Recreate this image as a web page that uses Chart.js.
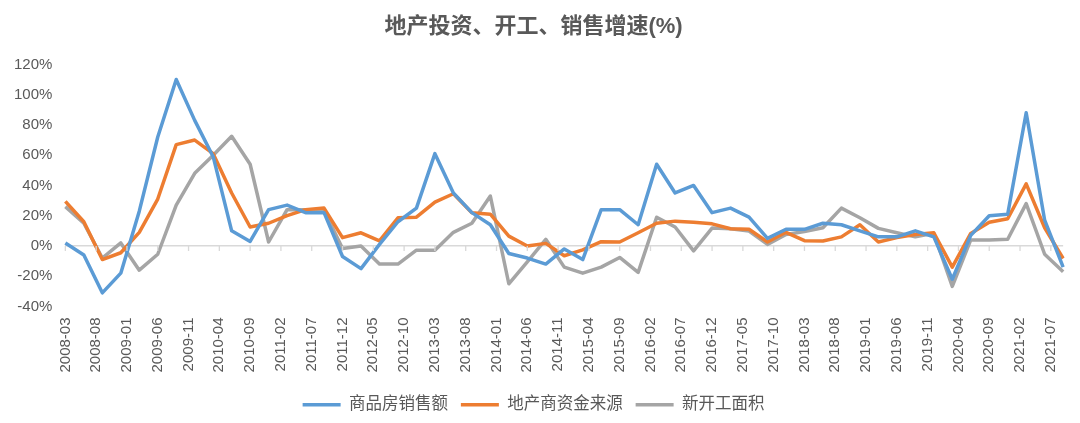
<!DOCTYPE html>
<html>
<head>
<meta charset="utf-8">
<script src="https://cdn.jsdelivr.net/npm/chart.js@4"></script>
<style>
  html, body { margin: 0; padding: 0; background: #fff; }
  #wrap { width: 1080px; height: 423px; }
</style>
</head>
<body>
<div id="wrap"><canvas id="chart"></canvas></div>
<script>
// quarterly values, 2008-03 .. 2021-09 (%)
var sales = [2, -6, -31, -18, 23, 72, 110, 83, 59, 10, 3, 24, 27, 22, 22, -7, -15, 1, 16, 25,
  61, 35, 22, 14, -5, -8, -12, -2, -9, 24, 24, 14, 54, 35, 40, 22, 25, 19, 5, 11,
  11, 15, 14, 10, 6, 6, 10, 6, -22, 7, 20, 21, 88, 17, -14];
var funds = [29.5, 16, -9, -4.5, 9, 31, 67, 70, 61, 35, 12.5, 15, 20, 24, 25, 5.5, 8.7, 3.3, 18.6, 19,
  29, 34.5, 22, 21, 6.5, 0, 1.7, -6.5, -2.6, 2.8, 2.6, 8.7, 15, 16.4, 15.7, 14.6, 11.4, 11, 2.6, 9,
  3.5, 3.3, 6, 14, 2.6, 5.5, 7.6, 8.7, -14, 8.3, 15.7, 18, 41, 12, -8.3];
var starts = [26, 15, -8, 2, -16, -5.5, 27, 48, 60, 72.5, 54, 2.6, 24, 24, 23.6, -1.7, 0, -12, -12, -2.8,
  -2.8, 9, 15, 33, -25, -10.5, 4.4, -14, -18, -14, -7.6, -17.5, 19, 12.5, -3.3, 11.8, 11.4, 9.8, 1, 7.6,
  9.5, 12, 25, 18.6, 11.6, 8.7, 6, 8.3, -26.7, 4, 4, 4.4, 28, -5.5, -17];

var seriesNames = ['商品房销售额', '地产商资金来源', '新开工面积'];
var yTicks = [-40, -20, 0, 20, 40, 60, 80, 100, 120];

// monthly category axis, labelled every 5 months
var months = [];
for (var y = 2008, m = 3; months.length < 163; m++) {
    if (m > 12) { m = 1; y++; }
    months.push(y + '-' + (m < 10 ? '0' + m : m));
}
var labelEvery = 5;

function toMonthly(q) {
    var out = months.map(function () { return null; });
    q.forEach(function (v, i) { out[i * 3] = v; });
    return out;
}

var axisTicks = {
    id: 'axisTicks',
    afterDraw: function (chart) {
        var xs = chart.scales.x, ys = chart.scales.y, ctx = chart.ctx;
        var y0 = ys.getPixelForValue(0);
        ctx.save();
        ctx.strokeStyle = '#d9d9d9';
        ctx.lineWidth = 1.3;
        ctx.beginPath();
        for (var i = 0; i < months.length; i += labelEvery) {
            var x = xs.getPixelForValue(i);
            ctx.moveTo(x, y0);
            ctx.lineTo(x, y0 + 5);
        }
        ctx.stroke();
        ctx.restore();
    }
};

var font = "'Liberation Sans', 'Noto Sans CJK SC', sans-serif";
var colors = ['#5b9bd5', '#ed7d31', '#a5a5a5'];

new Chart(document.getElementById('chart'), {
    type: 'line',
    data: {
        labels: months,
        datasets: [sales, funds, starts].map(function (d, i) {
            return {
                label: seriesNames[i],
                data: toMonthly(d),
                borderColor: colors[i],
                backgroundColor: colors[i],
                borderWidth: 3.5,
                borderJoinStyle: 'round',
                pointRadius: 0,
                tension: 0,
                spanGaps: true
            };
        })
    },
    options: {
        responsive: true,
        maintainAspectRatio: false,
        animation: false,
        layout: { padding: { left: 1, right: 14, top: 0, bottom: 0 } },
        plugins: {
            title: {
                display: true,
                text: '地产投资、开工、销售增速(%)',
                color: '#595959',
                font: { family: font, size: 22, weight: 'bold' },
                padding: { top: 14, bottom: 24 }
            },
            legend: {
                position: 'bottom',
                labels: {
                    usePointStyle: true,
                    pointStyle: 'line',
                    pointStyleWidth: 38,
                    color: '#595959',
                    font: { family: font, size: 16.5 },
                    padding: 13
                }
            },
            tooltip: { enabled: false }
        },
        scales: {
            x: {
                offset: false,
                grid: { display: false, drawTicks: false },
                border: { display: false },
                ticks: {
                    autoSkip: false,
                    minRotation: 90,
                    maxRotation: 90,
                    padding: 11,
                    color: '#595959',
                    font: { family: font, size: 15 },
                    callback: function (val, i) {
                        return i % labelEvery === 0 ? months[i] : null;
                    }
                }
            },
            y: {
                min: yTicks[0],
                max: yTicks[yTicks.length - 1],
                afterBuildTicks: function (scale) {
                    scale.ticks = yTicks.map(function (v) { return { value: v }; });
                },
                border: { display: false },
                grid: {
                    drawTicks: false,
                    lineWidth: 1.5,
                    color: function (c) { return c.tick && c.tick.value === 0 ? '#d9d9d9' : 'rgba(0,0,0,0)'; }
                },
                ticks: {
                    padding: 13,
                    color: '#595959',
                    font: { family: font, size: 15 },
                    callback: function (v) { return v + '%'; }
                }
            }
        }
    },
    plugins: [axisTicks]
});
</script>
</body>
</html>
